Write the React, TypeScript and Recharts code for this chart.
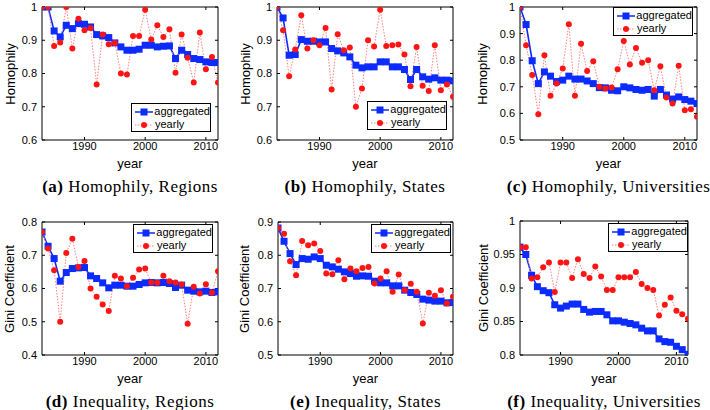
import React from "react";
import { Line, LineChart, XAxis, YAxis } from "recharts";

const YEARS = [
  1983, 1984, 1985, 1986, 1987, 1988, 1989, 1990, 1991, 1992, 1993, 1994, 1995, 1996, 1997,
  1998, 1999, 2000, 2001, 2002, 2003, 2004, 2005, 2006, 2007, 2008, 2009, 2010, 2011, 2012,
];
const X_TICKS = [1990, 2000, 2010];

// (a) homophily, regions
const HOM_REGIONS_AGG = [
  1.0, 1.0, 0.928, 0.91, 0.945, 0.935, 0.95, 0.948, 0.94, 0.917, 0.913, 0.908, 0.892, 0.88, 0.87,
  0.87, 0.873, 0.885, 0.885, 0.88, 0.882, 0.883, 0.845, 0.87, 0.857, 0.845, 0.842, 0.835, 0.833, 0.833,
];
const HOM_REGIONS_YEARLY = [
  1.0, 1.0, 0.883, 0.893, 1.0, 0.875, 0.965, 0.93, 0.937, 0.767, 0.917, 0.888, 0.892, 0.8, 0.797,
  0.913, 0.913, 0.992, 0.902, 0.945, 0.91, 0.933, 0.802, 0.917, 0.847, 0.773, 0.923, 0.813, 0.85, 0.773,
];

// (b) homophily, states
const HOM_STATES_AGG = [
  1.0, 0.967, 0.855, 0.857, 0.902, 0.897, 0.897, 0.895, 0.895, 0.875, 0.868, 0.862, 0.85, 0.825, 0.817,
  0.82, 0.82, 0.835, 0.835, 0.82, 0.82, 0.812, 0.782, 0.812, 0.79, 0.783, 0.787, 0.78, 0.78, 0.778,
];
const HOM_STATES_YEARLY = [
  1.0, 0.93, 0.792, 0.872, 0.975, 0.875, 0.9, 0.885, 0.937, 0.752, 0.918, 0.87, 0.878, 0.7, 0.755,
  0.9, 0.881, 0.992, 0.883, 0.885, 0.887, 0.857, 0.762, 0.88, 0.763, 0.747, 0.885, 0.75, 0.767, 0.73,
];

// (c) homophily, universities
const HOM_UNIS_AGG = [
  1.0, 0.934, 0.798, 0.712, 0.756, 0.74, 0.72, 0.725, 0.74, 0.729, 0.729, 0.722, 0.712, 0.697, 0.696,
  0.687, 0.685, 0.7, 0.696, 0.69, 0.687, 0.69, 0.665, 0.69, 0.669, 0.654, 0.662, 0.652, 0.646, 0.637,
];
const HOM_UNIS_YEARLY = [
  1.0, 0.856, 0.744, 0.597, 0.819, 0.666, 0.712, 0.769, 0.935, 0.666, 0.862, 0.759, 0.796, 0.7, 0.694,
  0.697, 0.766, 0.872, 0.784, 0.846, 0.79, 0.8, 0.687, 0.777, 0.66, 0.637, 0.779, 0.612, 0.616, 0.587,
];

// (d) inequality, regions
const GINI_REGIONS_AGG = [
  0.77, 0.727, 0.69, 0.622, 0.648, 0.66, 0.662, 0.663, 0.638, 0.63, 0.617, 0.602, 0.61, 0.61, 0.607,
  0.607, 0.612, 0.617, 0.618, 0.617, 0.618, 0.615, 0.603, 0.61, 0.595, 0.592, 0.59, 0.592, 0.588, 0.59,
];
const GINI_REGIONS_YEARLY = [
  0.77, 0.72, 0.655, 0.5, 0.707, 0.75, 0.665, 0.683, 0.6, 0.575, 0.552, 0.532, 0.638, 0.63, 0.607,
  0.632, 0.657, 0.66, 0.618, 0.617, 0.638, 0.622, 0.618, 0.612, 0.494, 0.605, 0.585, 0.613, 0.587, 0.652,
];

// (e) inequality, states
const GINI_STATES_AGG = [
  0.882, 0.842, 0.805, 0.772, 0.79, 0.788, 0.795, 0.79, 0.77, 0.765, 0.758, 0.75, 0.745, 0.737, 0.738,
  0.737, 0.722, 0.717, 0.717, 0.708, 0.708, 0.695, 0.688, 0.682, 0.668, 0.665, 0.662, 0.662, 0.657, 0.658,
];
const GINI_STATES_YEARLY = [
  0.882, 0.865, 0.782, 0.74, 0.843, 0.83, 0.835, 0.813, 0.745, 0.743, 0.785, 0.728, 0.76, 0.752, 0.762,
  0.765, 0.715, 0.73, 0.752, 0.69, 0.742, 0.695, 0.714, 0.69, 0.595, 0.687, 0.678, 0.695, 0.655, 0.675,
];

// (f) inequality, universities
const GINI_UNIS_AGG = [
  0.961, 0.95, 0.919, 0.902, 0.896, 0.893, 0.875, 0.87, 0.873, 0.876, 0.876, 0.868, 0.864, 0.865, 0.865,
  0.86, 0.851, 0.851, 0.849, 0.847, 0.845, 0.84, 0.836, 0.836, 0.824, 0.82, 0.819, 0.813, 0.808, 0.801,
];
const GINI_UNIS_YEARLY = [
  0.961, 0.961, 0.914, 0.916, 0.931, 0.938, 0.894, 0.938, 0.938, 0.915, 0.943, 0.921, 0.915, 0.932, 0.917,
  0.897, 0.897, 0.916, 0.916, 0.916, 0.924, 0.906, 0.9, 0.897, 0.859, 0.875, 0.886, 0.866, 0.861, 0.854,
];

const SANS = "'Liberation Sans', Arial, Helvetica, sans-serif";
const SERIF = "'Liberation Serif', 'Times New Roman', serif";
const BLUE = "#0b2bff";
const RED = "#ff1414";
const RED_LINE = "#ff8080";

const PANELS = [
  {
    tag: "(a)", caption: "Homophily, Regions", yLabel: "Homophily",
    plot: { x0: 42, x1: 218, y0: 7, y1: 140 }, yLabelX: 10,
    domain: [0.6, 1], ticks: [0.6, 0.7, 0.8, 0.9, 1],
    agg: HOM_REGIONS_AGG, yearly: HOM_REGIONS_YEARLY, legend: { left: 131, top: 103 },
  },
  {
    tag: "(b)", caption: "Homophily, States", yLabel: "Homophily",
    plot: { x0: 277, x1: 453, y0: 7, y1: 140 }, yLabelX: 245,
    domain: [0.6, 1], ticks: [0.6, 0.7, 0.8, 0.9, 1],
    agg: HOM_STATES_AGG, yearly: HOM_STATES_YEARLY, legend: { left: 367, top: 101 },
  },
  {
    tag: "(c)", caption: "Homophily, Universities", yLabel: "Homophily",
    plot: { x0: 520, x1: 697, y0: 7, y1: 140 }, yLabelX: 482,
    domain: [0.5, 1], ticks: [0.5, 0.6, 0.7, 0.8, 0.9, 1],
    agg: HOM_UNIS_AGG, yearly: HOM_UNIS_YEARLY, legend: { left: 613, top: 7 },
  },
  {
    tag: "(d)", caption: "Inequality, Regions", yLabel: "Gini Coefficient",
    plot: { x0: 42, x1: 218, y0: 222, y1: 355 }, yLabelX: 9,
    domain: [0.4, 0.8], ticks: [0.4, 0.5, 0.6, 0.7, 0.8],
    agg: GINI_REGIONS_AGG, yearly: GINI_REGIONS_YEARLY, legend: { left: 133, top: 224 },
  },
  {
    tag: "(e)", caption: "Inequality, States", yLabel: "Gini Coefficient",
    plot: { x0: 278, x1: 453, y0: 222, y1: 355 }, yLabelX: 244,
    domain: [0.5, 0.9], ticks: [0.5, 0.6, 0.7, 0.8, 0.9],
    agg: GINI_STATES_AGG, yearly: GINI_STATES_YEARLY, legend: { left: 371, top: 224 },
  },
  {
    tag: "(f)", caption: "Inequality, Universities", yLabel: "Gini Coefficient",
    plot: { x0: 520, x1: 688, y0: 221, y1: 355 }, yLabelX: 483,
    domain: [0.8, 1], ticks: [0.8, 0.85, 0.9, 0.95, 1],
    agg: GINI_UNIS_AGG, yearly: GINI_UNIS_YEARLY, legend: { left: 608, top: 223 },
  },
];

function SquareDot(props: any) {
  const { cx, cy, index } = props;
  if (cx == null || cy == null) return <g key={`sq-${index}`} />;
  return <rect key={`sq-${index}`} x={cx - 3.5} y={cy - 3.5} width={7} height={7} fill={BLUE} />;
}

function LegendBox({ left, top }: { left: number; top: number }) {
  const row = { display: "flex", alignItems: "center", height: 13 } as const;
  return (
    <div
      style={{
        position: "absolute", left, top, width: 80, height: 29, boxSizing: "border-box",
        border: "1px solid #000", background: "#fff", fontFamily: SANS, fontSize: 11,
        color: "#000", padding: "1px 0 0 2px", lineHeight: "13px",
      }}
    >
      <div style={row}>
        <svg width={20} height={10} style={{ marginRight: 1 }}>
          <line x1={1} y1={5} x2={19} y2={5} stroke={BLUE} strokeWidth={1.5} />
          <rect x={6.5} y={1.5} width={7} height={7} fill={BLUE} />
        </svg>
        aggregated
      </div>
      <div style={row}>
        <svg width={20} height={10} style={{ marginRight: 1 }}>
          <line x1={1} y1={5} x2={19} y2={5} stroke={RED_LINE} strokeWidth={1} strokeDasharray="1.5 1.5" />
          <circle cx={10} cy={5} r={3} fill={RED} />
        </svg>
        yearly
      </div>
    </div>
  );
}

function Panel({ cfg }: { cfg: (typeof PANELS)[number] }) {
  const { plot } = cfg;
  const data = YEARS.map((year, i) => ({ year, aggregated: cfg.agg[i], yearly: cfg.yearly[i] }));
  const L = 40, R = 5, T = 5, B = 25;
  const w = plot.x1 - plot.x0 + L + R;
  const h = plot.y1 - plot.y0 + T + B;
  const cx = (plot.x0 + plot.x1) / 2;
  const tickStyle = { fill: "#000", fontSize: 11, fontFamily: SANS };
  return (
    <>
      <div style={{ position: "absolute", left: plot.x0 - L, top: plot.y0 - T }}>
        <LineChart width={w} height={h} data={data} margin={{ top: T - 1, right: R - 1, bottom: 0, left: 0 }}>
          <XAxis
            dataKey="year" type="number" domain={[1983, 2012]} ticks={X_TICKS} interval={0}
            height={B} tickSize={-3} tickMargin={5} stroke="#000" tick={tickStyle} allowDataOverflow
          />
          <XAxis
            xAxisId="top" orientation="top" dataKey="year" type="number" domain={[1983, 2012]}
            ticks={X_TICKS} interval={0} height={1} tickSize={-3} stroke="#000" tickFormatter={() => ""}
            allowDataOverflow
          />
          <YAxis
            type="number" domain={cfg.domain} ticks={cfg.ticks} interval={0} width={L}
            tickSize={-3} tickMargin={8} stroke="#000" tick={tickStyle} allowDataOverflow
          />
          <YAxis
            yAxisId="right" orientation="right" type="number" domain={cfg.domain} ticks={cfg.ticks}
            interval={0} width={1} tickSize={-3} stroke="#000" tickFormatter={() => ""} allowDataOverflow
          />
          <Line
            dataKey="aggregated" stroke={BLUE} strokeWidth={1.6} dot={SquareDot} activeDot={false}
            isAnimationActive={false}
          />
          <Line
            dataKey="yearly" xAxisId="top" yAxisId="right" stroke={RED_LINE} strokeWidth={1}
            strokeDasharray="1.5 1.5" dot={{ r: 3, fill: RED, stroke: "none" }} activeDot={false}
            isAnimationActive={false}
          />
        </LineChart>
      </div>
      <LegendBox left={cfg.legend.left} top={cfg.legend.top} />
      <div
        style={{
          position: "absolute", left: cfg.yLabelX, top: (plot.y0 + plot.y1) / 2,
          transform: "translate(-50%, -50%) rotate(-90deg)", fontFamily: SANS, fontSize: 13,
          whiteSpace: "nowrap", color: "#000",
        }}
      >
        {cfg.yLabel}
      </div>
      <div
        style={{
          position: "absolute", left: cx, top: plot.y1 + 23, transform: "translate(-50%, -50%)",
          fontFamily: SANS, fontSize: 13, color: "#000",
        }}
      >
        year
      </div>
      <div
        style={{
          position: "absolute", left: cx, top: plot.y1 + 47, transform: "translate(-50%, -50%)",
          fontFamily: SERIF, fontSize: 17, letterSpacing: 0.5, whiteSpace: "nowrap", color: "#000",
        }}
      >
        <b>{cfg.tag}</b> {cfg.caption}
      </div>
    </>
  );
}

export default function App() {
  return (
    <div style={{ position: "absolute", left: 0, top: 0, width: 710, height: 410, background: "#fff", overflow: "hidden" }}>
      {PANELS.map((p) => (
        <Panel key={p.tag} cfg={p} />
      ))}
    </div>
  );
}
